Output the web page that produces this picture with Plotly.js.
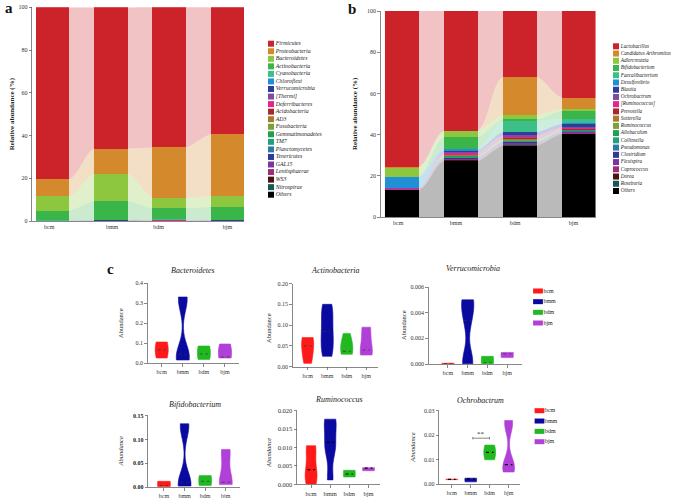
<!DOCTYPE html>
<html><head><meta charset="utf-8">
<script src="https://cdn.plot.ly/plotly-3.0.1.min.js"></script>
<style>html,body{margin:0;padding:0;background:#fff}#chart{width:676px;height:498px}</style>
</head><body><div id="chart"></div>
<script>
// ---------- categories ----------
const groups = ['bcm', 'bmm', 'bdm', 'bjm'];

// ---------- panel a : phyla (relative abundance %, order bcm,bmm,bdm,bjm) ----------
const phylumNames = ['Firmicutes','Proteobacteria','Bacteroidetes','Actinobacteria','Cyanobacteria','Chloroflexi','Verrucomicrobia','[Thermi]','Deferribacteres','Acidobacteria','AD3','Fusobacteria','Gemmatimonadetes','TM7','Planctomycetes','Tenericutes','GAL15','Lentisphaerae','WS3','Nitrospirae','Others'];
const firmicutes       = [80.6, 66.1, 65.7, 59.5];
const proteobacteria   = [8.0, 11.7, 23.5, 29.0];
const bacteroidetes    = [6.6, 12.9, 5.0, 5.0];
const actinobacteria   = [4.6, 8.7, 5.2, 5.9];
const cyanobacteria    = [0.05, 0.05, 0.05, 0.05];
const chloroflexi      = [0.02, 0.03, 0.03, 0.02];
const verrucomicrobia  = [0.01, 0.30, 0.03, 0.40];
const thermi           = [0.01, 0.02, 0.20, 0.02];
const deferribacteres  = [0.02, 0.05, 0.20, 0.02];
const acidobacteria    = [0.01, 0.01, 0.01, 0.01];
const ad3              = [0.01, 0.01, 0.01, 0.01];
const fusobacteria     = [0.01, 0.01, 0.01, 0.01];
const gemmatimonadetes = [0.01, 0.01, 0.01, 0.01];
const tm7              = [0.01, 0.01, 0.01, 0.01];
const planctomycetes   = [0.01, 0.01, 0.01, 0.01];
const tenericutes      = [0.01, 0.01, 0.01, 0.01];
const gal15            = [0.01, 0.01, 0.01, 0.01];
const lentisphaerae    = [0.01, 0.01, 0.01, 0.01];
const ws3              = [0.01, 0.01, 0.01, 0.01];
const nitrospirae      = [0.01, 0.01, 0.01, 0.01];
const othersPhylum     = [0.05, 0.05, 0.10, 0.05];

// ---------- panel b : genera ----------
const genusNames = ['Lactobacillus','Candidatus Arthromitus','Adlercreutzia','Bifidobacterium','Faecalibacterium','Desulfovibrio','Blautia','Ochrobactrum','[Ruminococcus]','Prevotella','Sutterella','Ruminococcus','Allobaculum','Collinsella','Pseudomonas','Clostridium','Flexispira','Coprococcus','Dorea','Roseburia','Others'];
const lactobacillus    = [75.9, 58.1, 31.9, 42.1];
const candArthromitus  = [0.1, 0.0, 18.6, 5.6];
const adlercreutzia    = [4.4, 3.1, 2.1, 0.7];
const bifidoGenus      = [0.2, 5.6, 0.6, 4.0];
const faecalibacterium = [0.1, 0.1, 5.4, 2.2];
const desulfovibrio    = [5.3, 1.0, 0.3, 0.3];
const blautia          = [0.1, 0.5, 1.5, 1.5];
const ochroGenus       = [0.3, 0.6, 0.7, 0.5];
const ruminococcusBr   = [0.3, 0.7, 0.6, 0.5];
const prevotella       = [0.1, 0.3, 0.5, 0.3];
const sutterella       = [0.03, 0.2, 0.4, 0.2];
const ruminoGenus      = [0.03, 0.2, 0.3, 0.1];
const allobaculum      = [0.03, 0.3, 0.4, 0.2];
const collinsella      = [0.03, 0.5, 0.4, 0.2];
const pseudomonas      = [0.03, 0.1, 0.1, 0.1];
const clostridium      = [0.03, 0.4, 0.5, 0.3];
const flexispira       = [0.03, 0.3, 0.3, 0.3];
const coprococcus      = [0.03, 0.5, 0.4, 0.4];
const dorea            = [0.03, 0.2, 0.2, 0.1];
const roseburia        = [0.03, 0.2, 0.2, 0.1];
const othersGenus      = [12.9, 27.1, 34.6, 40.3];

// ---------- panel c : abundance samples per group (bcm,bmm,bdm,bjm) ----------
const bacteroidetesAbund   = [[0.025, 0.045, 0.065, 0.09, 0.105], [0.015, 0.03, 0.045, 0.31, 0.33], [0.018, 0.03, 0.045, 0.075, 0.085], [0.025, 0.028, 0.03, 0.09, 0.095]];
const actinobacteriaAbund  = [[0.008, 0.035, 0.065, 0.07], [0.025, 0.055, 0.085, 0.12, 0.15], [0.03, 0.035, 0.037, 0.06, 0.08], [0.028, 0.035, 0.04, 0.09, 0.095]];
const verrucomicrobiaAbund = [[0.00001, 0.00002, 0.00003, 0.00005, 0.00006], [0.00002, 0.0002, 0.0034, 0.0048, 0.005], [0.00002, 0.00005, 0.0001, 0.0005, 0.0006], [0.0005, 0.00075, 0.0008, 0.00088, 0.0009]];
const bifidobacteriumAbund = [[0.001, 0.002, 0.003, 0.011, 0.012], [0.002, 0.005, 0.01, 0.125, 0.133], [0.003, 0.006, 0.012, 0.022, 0.024], [0.005, 0.008, 0.01, 0.072, 0.079]];
const ruminococcusAbund    = [[0.0001, 0.002, 0.004, 0.0095, 0.0105], [0.0012, 0.009, 0.0114, 0.0165, 0.0177], [0.002, 0.0025, 0.0028, 0.0035, 0.0038], [0.0037, 0.0042, 0.0044, 0.0045, 0.0045]];
const ochrobactrumAbund    = [[0.0019, 0.002, 0.002, 0.002, 0.0021], [0.001, 0.002, 0.0022, 0.0024, 0.0025], [0.010, 0.011, 0.013, 0.015, 0.016], [0.005, 0.007, 0.008, 0.024, 0.026]];

// ---------- styling ----------
const W = 676, H = 498;
const px = p => p / W, py = p => 1 - p / H;
const palette = ['#cc2229','#d4892c','#8dc63f','#3ab54a','#3dbf8a','#1f8fd6','#2e3d98','#7d4ea0','#e0258b','#a9282d','#a97a2c','#7ba03c','#20a04d','#229f7c','#2a7ca3','#2c3b94','#7a36a0','#a22a78','#4b1212','#135b55','#000000'];
const vColors = ['#ff1a1a', '#0a0aa0', '#22b822', '#b040d8'];
const SERIF = 'Liberation Serif, DejaVu Serif, serif';
function rgba(hex, a) { const n = parseInt(hex.slice(1), 16); return `rgba(${n >> 16},${(n >> 8) & 255},${n & 255},${a})`; }
const median = a => { const s = [...a].sort((p, q) => p - q); const n = s.length; return n % 2 ? s[(n - 1) / 2] : (s[n / 2 - 1] + s[n / 2]) / 2; };

const barW = 0.574;
const xsBar = groups.map((g, i) => i);
const xsRib = []; xsBar.forEach(c => { xsRib.push(c - barW / 2, c + barW / 2); });
const dup = v => { const o = []; v.forEach(a => o.push(a, a)); return o; };

const traces = [];
function stackPanel(series, colors, xa, ya, xo, yo, grp) {
  for (let i = series.length - 1; i >= 0; i--) {
    traces.push({type: 'scatter', x: xsRib, y: dup(series[i]), xaxis: xa, yaxis: ya, stackgroup: grp, mode: 'lines',
      line: {width: 0, shape: 'spline', smoothing: 1}, fillcolor: rgba(colors[i], 0.27), hoverinfo: 'skip', showlegend: false});
  }
  for (let i = series.length - 1; i >= 0; i--) {
    traces.push({type: 'bar', x: xsBar, y: series[i], xaxis: xo, yaxis: yo, width: barW,
      marker: {color: colors[i], line: {width: 0}}, hoverinfo: 'skip', showlegend: false});
  }
}
stackPanel([firmicutes, proteobacteria, bacteroidetes, actinobacteria, cyanobacteria, chloroflexi, verrucomicrobia, thermi, deferribacteres, acidobacteria, ad3, fusobacteria, gemmatimonadetes, tm7, planctomycetes, tenericutes, gal15, lentisphaerae, ws3, nitrospirae, othersPhylum], palette, 'x', 'y', 'x13', 'y13', 'a');
stackPanel([lactobacillus, candArthromitus, adlercreutzia, bifidoGenus, faecalibacterium, desulfovibrio, blautia, ochroGenus, ruminococcusBr, prevotella, sutterella, ruminoGenus, allobaculum, collinsella, pseudomonas, clostridium, flexispira, coprococcus, dorea, roseburia, othersGenus], palette, 'x2', 'y2', 'x14', 'y14', 'b');

function violinPanel(samples, xa, ya, bw, medColor, medWidth) {
  samples.forEach((s, i) => {
    traces.push({type: 'violin', x0: i, y: s, xaxis: xa, yaxis: ya, width: 0.62, spanmode: 'hard', scalemode: 'width', bandwidth: bw,
      fillcolor: vColors[i], line: {color: vColors[i], width: 0.6}, points: false, box: {visible: false},
      meanline: {visible: false}, hoverinfo: 'skip', showlegend: false, opacity: 1});
    const m = median(s);
    traces.push({type: 'scatter', mode: 'lines', x: [i - 0.2, i + 0.2], y: [m, m], xaxis: xa, yaxis: ya,
      line: {color: medColor, width: medWidth, dash: 'dot'}, hoverinfo: 'skip', showlegend: false});
  });
}
violinPanel(bacteroidetesAbund, 'x3', 'y3', 0.06, '#333', 0.7);
violinPanel(actinobacteriaAbund, 'x4', 'y4', 0.025, '#333', 0.7);
violinPanel(verrucomicrobiaAbund, 'x5', 'y5', 0.001, '#333', 0.7);
violinPanel(bifidobacteriumAbund, 'x6', 'y6', 0.025, '#333', 0.7);
violinPanel(ruminococcusAbund, 'x7', 'y7', 0.003, '#000', 1.1);
violinPanel(ochrobactrumAbund, 'x8', 'y8', 0.004, '#000', 1.1);

// legends drawn as scatter on hidden axes
traces.push({type: 'scatter', mode: 'markers+text', xaxis: 'x9', yaxis: 'y9', x: phylumNames.map(() => 3), y: phylumNames.map((n, i) => i),
  marker: {symbol: 'square', size: 6, color: palette}, text: phylumNames, textposition: 'middle right', cliponaxis: false,
  textfont: {family: SERIF, size: 5.8, style: 'italic', color: '#222'}, hoverinfo: 'skip', showlegend: false});
traces.push({type: 'scatter', mode: 'markers+text', xaxis: 'x10', yaxis: 'y10', x: genusNames.map(() => 3), y: genusNames.map((n, i) => i),
  marker: {symbol: 'square', size: 6, color: palette}, text: genusNames, textposition: 'middle right', cliponaxis: false,
  textfont: {family: SERIF, size: 5.2, style: 'italic', color: '#222'}, hoverinfo: 'skip', showlegend: false});
['x11', 'x12'].forEach((xa, k) => {
  traces.push({type: 'scatter', mode: 'markers+text', xaxis: xa, yaxis: k ? 'y12' : 'y11', x: groups.map(() => 9), y: groups.map((g, i) => i),
    marker: {symbol: 'line-ew', size: 7, line: {color: vColors, width: 5}}, text: groups, textposition: 'middle right', cliponaxis: false,
    textfont: {family: SERIF, size: 6, color: '#222'}, hoverinfo: 'skip', showlegend: false});
});

// ---------- layout ----------
const axBase = {showgrid: false, zeroline: false, showline: true, linecolor: '#555', linewidth: 0.7, ticks: 'outside', ticklen: 3,
  tickwidth: 0.7, tickcolor: '#555', tickfont: {family: SERIF, size: 6, color: '#333'}, fixedrange: true};
const hidden = {visible: false, showgrid: false, zeroline: false, fixedrange: true};
const layout = {
  width: W, height: H, margin: {l: 0, r: 0, t: 0, b: 0}, showlegend: false,
  paper_bgcolor: '#fff', plot_bgcolor: 'rgba(0,0,0,0)', barmode: 'stack', violinmode: 'overlay',
  font: {family: SERIF, color: '#222'},
  // panel a
  xaxis:  {...axBase, domain: [px(32.3), px(244.3)], range: [-0.35, 3.29], anchor: 'y', tickvals: [-0.06, 1.02, 1.82, 3.0], ticktext: groups, ticks: ''},
  yaxis:  {...axBase, domain: [py(221), py(7.3)], range: [0, 100], dtick: 20, anchor: 'x'},
  xaxis13: {...hidden, overlaying: 'x', range: [-0.35, 3.29], anchor: 'y13'},
  yaxis13: {...hidden, overlaying: 'y', range: [0, 100], anchor: 'x13'},
  // panel b
  xaxis2: {...axBase, domain: [px(381), px(595.5)], range: [-0.352, 3.284], anchor: 'y2', tickvals: [-0.06, 0.92, 1.92, 2.91], ticktext: groups, ticks: ''},
  yaxis2: {...axBase, domain: [py(217), py(11)], range: [0, 100], dtick: 20, anchor: 'x2'},
  xaxis14: {...hidden, overlaying: 'x2', range: [-0.352, 3.284], anchor: 'y14'},
  yaxis14: {...hidden, overlaying: 'y2', range: [0, 100], anchor: 'x14'},
  // violins
  xaxis3: {...axBase, domain: [px(148), px(238.7)], range: [-0.65, 3.65], anchor: 'y3', tickvals: [0, 1, 2, 3], ticktext: groups},
  yaxis3: {...axBase, domain: [py(363), py(283)], range: [0, 0.4], dtick: 0.1, tickformat: '.1f', anchor: 'x3'},
  xaxis4: {...axBase, domain: [px(293), px(378)], range: [-0.75, 3.6], anchor: 'y4', tickvals: [0, 1, 2, 3], ticktext: groups},
  yaxis4: {...axBase, domain: [py(366.7), py(283.5)], range: [0, 0.2], dtick: 0.05, tickformat: '.2f', anchor: 'x4'},
  xaxis5: {...axBase, domain: [px(429), px(522)], range: [-0.96, 3.75], anchor: 'y5', tickvals: [0, 1, 2, 3], ticktext: groups},
  yaxis5: {...axBase, domain: [py(364), py(287)], range: [0, 0.006], dtick: 0.002, tickformat: '.3f', anchor: 'x5'},
  xaxis6: {...axBase, domain: [px(148.3), px(240)], range: [-0.76, 3.69], anchor: 'y6', tickvals: [0, 1, 2, 3], ticktext: groups},
  yaxis6: {...axBase, domain: [py(487), py(415.7)], range: [0, 0.15], dtick: 0.05, tickformat: '.2f', anchor: 'x6',
    tickfont: {family: SERIF, size: 6, color: '#222', weight: 'bold'}},
  xaxis7: {...axBase, domain: [px(297.3), px(380)], range: [-0.72, 3.6], anchor: 'y7', tickvals: [0, 1, 2, 3], ticktext: groups,
    tickfont: {family: SERIF, size: 6.5, color: '#333'}},
  yaxis7: {...axBase, domain: [py(484.3), py(410.7)], range: [0, 0.02], dtick: 0.005, tickformat: '.3f', anchor: 'x7',
    tickfont: {family: SERIF, size: 6.5, color: '#333'}},
  xaxis8: {...axBase, domain: [px(439.3), px(520)], range: [-0.66, 3.6], anchor: 'y8', tickvals: [0, 1, 2, 3], ticktext: groups},
  yaxis8: {...axBase, domain: [py(484.3), py(410.7)], range: [0, 0.03], dtick: 0.01, tickformat: '.2f', anchor: 'x8'},
  // legend axes
  xaxis9:  {...hidden, domain: [px(268), px(340)], range: [0, 72], anchor: 'y9'},
  yaxis9:  {...hidden, domain: [py(194.7), py(43.7)], range: [20, 0], anchor: 'x9'},
  xaxis10: {...hidden, domain: [px(613), px(676)], range: [0, 63], anchor: 'y10'},
  yaxis10: {...hidden, domain: [py(191), py(46.3)], range: [20, 0], anchor: 'x10'},
  xaxis11: {...hidden, domain: [px(529), px(599)], range: [0, 70], anchor: 'y11'},
  yaxis11: {...hidden, domain: [py(323), py(291)], range: [3, 0], anchor: 'x11'},
  xaxis12: {...hidden, domain: [px(530.5), px(600.5)], range: [0, 70], anchor: 'y12'},
  yaxis12: {...hidden, domain: [py(441.7), py(410.7)], range: [3, 0], anchor: 'x12'},
  shapes: [
    {type: 'line', xref: 'x8', yref: 'y8', x0: 1.11, x1: 1.99, y0: 0.0188, y1: 0.0188, line: {color: '#555', width: 0.7}},
    {type: 'line', xref: 'x8', yref: 'y8', x0: 1.11, x1: 1.11, y0: 0.0183, y1: 0.0193, line: {color: '#555', width: 0.7}},
    {type: 'line', xref: 'x8', yref: 'y8', x0: 1.99, x1: 1.99, y0: 0.0183, y1: 0.0193, line: {color: '#555', width: 0.7}}
  ],
  annotations: []
};
const ann = (x, y, text, opt = {}) => layout.annotations.push(Object.assign({xref: 'paper', yref: 'paper', x: px(x), y: py(y), text, showarrow: false,
  xanchor: 'center', yanchor: 'middle', font: {family: SERIF, size: 8, color: '#222'}}, opt));
ann(8.5, 8, 'a', {font: {family: SERIF, size: 15, color: '#111', weight: 'bold'}});
ann(352, 9, 'b', {font: {family: SERIF, size: 15, color: '#111', weight: 'bold'}});
ann(110, 269, 'c', {font: {family: SERIF, size: 15, color: '#111', weight: 'bold'}});
ann(12.3, 114, 'Relative abundance (%)', {textangle: -90, font: {family: SERIF, size: 7, color: '#222', weight: 'bold'}});
ann(355, 114, 'Relative abundance (%)', {textangle: -90, font: {family: SERIF, size: 7, color: '#222', weight: 'bold'}});
ann(193, 270, 'Bacteroidetes', {font: {family: SERIF, size: 8, color: '#222', style: 'italic'}});
ann(335, 270, 'Actinobacteria', {font: {family: SERIF, size: 8, color: '#222', style: 'italic'}});
ann(473, 268, 'Verrucomicrobia', {font: {family: SERIF, size: 8, color: '#222', style: 'italic'}});
ann(195, 404, 'Bifidobacterium', {font: {family: SERIF, size: 8, color: '#222', style: 'italic'}});
ann(339, 399, 'Ruminococcus', {font: {family: SERIF, size: 8, color: '#222', style: 'italic'}});
ann(480, 400, 'Ochrobactrum', {font: {family: SERIF, size: 8, color: '#222', style: 'italic'}});
ann(120, 323, 'Abundance', {textangle: -90, font: {family: SERIF, size: 6.5, color: '#222'}});
ann(268, 328, 'Abundance', {textangle: -90, font: {family: SERIF, size: 6.5, color: '#222'}});
ann(403, 325, 'Abundance', {textangle: -90, font: {family: SERIF, size: 6.5, color: '#222'}});
ann(120.7, 451.7, 'Abundance', {textangle: -90, font: {family: SERIF, size: 6.5, color: '#222', style: 'italic'}});
ann(268, 453, 'Abundance', {textangle: -90, font: {family: SERIF, size: 6.5, color: '#222', style: 'italic'}});
ann(411.7, 448, 'Abundance', {textangle: -90, font: {family: SERIF, size: 6.5, color: '#222', style: 'italic'}});
layout.annotations.push({xref: 'x8', yref: 'y8', x: 1.55, y: 0.0188, text: '**', showarrow: false, yanchor: 'bottom', yshift: -2,
  font: {family: SERIF, size: 7, color: '#333'}});

Plotly.newPlot('chart', traces, layout, {staticPlot: true, displayModeBar: false});
</script>
</body></html>
